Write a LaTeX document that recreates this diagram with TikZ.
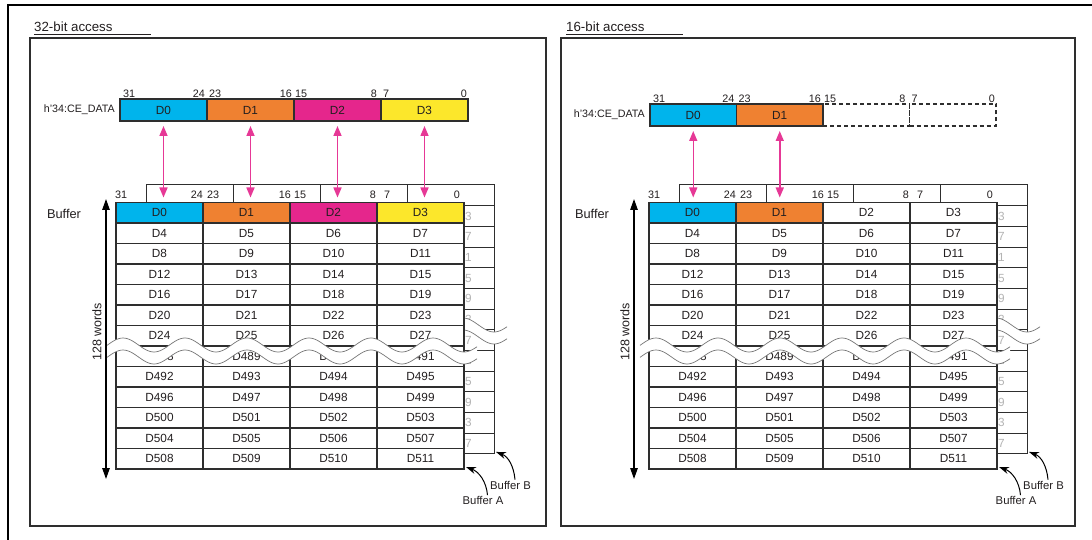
\documentclass[tikz,border=0pt]{standalone}
\usepackage{fontspec}
\setmainfont{Liberation Sans}
\usetikzlibrary{arrows.meta}
\definecolor{cD0}{HTML}{00B4EC}
\definecolor{cD1}{HTML}{EF8131}
\definecolor{cD2}{HTML}{E5268C}
\definecolor{cD3}{HTML}{FCE72B}
\definecolor{magarr}{HTML}{E63896}
\definecolor{ink}{HTML}{231F20}
\definecolor{grid}{HTML}{2E2E2E}
\definecolor{ghost}{HTML}{B4B4B4}
\definecolor{wavec}{HTML}{777777}

\newcommand\mywave{%
 \fill[white] plot[domain=-9:361,samples=160] (\x,{345-7*cos(5.80645*(\x-7))})
   -- plot[domain=-361:9,samples=160] (-\x,{357-7*cos(5.80645*(-\x-7))}) -- cycle;
 \draw[wavestyle] plot[domain=-9:361,samples=160] (\x,{345-7*cos(5.80645*(\x-7))});
 \draw[wavestyle] plot[domain=-9:361,samples=160] (\x,{357-7*cos(5.80645*(\x-7))});
}

% #1 prefix, #2 A left, #3 reg left, #4 reg top, #5 reg cell width, #6 vertical arrow x, #7 coloured fields
\newcommand\mypanel[7]{%
 % back buffer (Buffer B)
 \foreach \ri in {0,...,12}{%
  \foreach \ci in {0,...,3}{%
   \node[bcell] (#1-b-\ri-\ci) at ({#2+30+87*\ci+43.5},{185+20.69*\ri+10.345}) {};
  }%
 }%
 \foreach \ri in {1,...,12}{%
   \ifnum\ri<8 \pgfmathtruncatemacro\bn{4*(\ri-1)+3}\else\pgfmathtruncatemacro\bn{488+4*(\ri-8)+3}\fi
   \node[ghosttxt, anchor=east] (#1-bt-\ri) at ({#2+356},{185+20.69*\ri+10.345}) {D\bn};
 }%
 \begin{scope}[shift={(#2+30,-20)}]
   \mywave
 \end{scope}
 % front buffer (Buffer A)
 \foreach \ri in {0,...,12}{%
   \ifnum\ri<7 \pgfmathtruncatemacro\rbase{4*\ri}\else\pgfmathtruncatemacro\rbase{488+4*(\ri-7)}\fi
   \foreach \ci in {0,...,3}{%
     \pgfmathtruncatemacro\dn{\rbase+\ci}%
     \def\fc{white}%
     \ifnum\ri=0 \ifnum\ci<#7 \def\fc{cD\ci}\fi\fi
     \node[acell, fill=\fc] (#1-a-\ri-\ci) at ({#2+87*\ci+43.5},{202.5+20.5*\ri+10.25}) {D\dn};
   }%
 }%
 \begin{scope}[shift={(#2,0)}]
   \mywave
 \end{scope}
 % bit numbers above buffer
 \foreach \bt/\dx/\an in {31/-1/west,24/87/east,23/91/west,16/175/east,15/178/west,8/260/east,7/268/west,0/344/east}{%
   \node[bit, anchor=base \an] (#1-ab-\bt) at ({#2+\dx},198.5) {\bt};
 }%
 % register
 \foreach \ci in {0,...,3}{%
   \ifnum\ci<#7
     \node[regcell, minimum width=#5pt, fill=cD\ci] (#1-r-\ci) at ({#3+#5*\ci+#5/2},{#4+11}) {D\ci};
   \else
     \node[regdash, minimum width=#5pt] (#1-r-\ci) at ({#3+#5*\ci+#5/2},{#4+11}) {};
   \fi
 }%
 \foreach \bt/\dx/\an in {31/3/west,24/85/east,23/89/west,16/172/east,15/175/west,8/257/east,7/263/west,0/347/east}{%
   \node[bit, anchor=base \an] (#1-rb-\bt) at ({#3+\dx/87*#5},{#4-1.5}) {\bt};
 }%
 \node[lbl, anchor=east] (#1-lbl) at ({#3-5},{#4+11}) {h'34:CE\_DATA};
 % transfer arrows
 \pgfmathtruncatemacro\lastc{#7-1}%
 \foreach \ci in {0,...,\lastc}{%
   \draw[magarrow] (#1-r-\ci.south) -- (#1-r-\ci.south |- #1-a-0-0.north);
 }%
 % 128 words
 \coordinate (#1-vt) at (#6,199);
 \coordinate (#1-vb) at (#6,479);
 \draw[blkarrow] (#1-vt) -- (#1-vb);
 \node[lbl128, rotate=90] (#1-words) at ({#6-9},332) {128 words};
 \node[buflbl] (#1-buf) at ({#6-42},214) {Buffer};
 % callouts
 \node[calltxt, anchor=west] (#1-tB) at ([xshift=-4pt,yshift=-31pt]#1-b-12-3.south east) {Buffer B};
 \node[calltxt, anchor=west] (#1-tA) at ([xshift=-1.5pt,yshift=-31.5pt]#1-a-12-3.south east) {Buffer A};
 \draw[callout] ([xshift=25pt,yshift=1pt]#1-tB.north west) to[out=95,in=-20] ([xshift=2pt,yshift=2pt]#1-b-12-3.south east);
 \draw[callout] ([xshift=25pt,yshift=1pt]#1-tA.north west) to[out=95,in=-20] ([xshift=2pt,yshift=2pt]#1-a-12-3.south east);
}

\begin{document}
\begin{tikzpicture}[x=1pt,y=-1pt,
  acell/.style={draw=grid, line width=1.2pt, minimum width=87pt, minimum height=20.5pt, inner sep=0pt, outer sep=0pt, font=\fontsize{11.8}{12}\selectfont, text=ink},
  bcell/.style={draw=grid, line width=1pt, fill=white, minimum width=87pt, minimum height=20.69pt, inner sep=0pt, outer sep=0pt},
  ghosttxt/.style={font=\fontsize{11.8}{12}\selectfont, text=ghost, inner sep=0pt},
  regcell/.style={draw=grid, line width=1.6pt, minimum height=22pt, inner sep=0pt, outer sep=0pt, font=\fontsize{11.8}{12}\selectfont, text=ink},
  regdash/.style={draw=grid, line width=1.3pt, dash pattern=on 4pt off 3pt, minimum height=22pt, inner sep=0pt, outer sep=0pt},
  bit/.style={font=\fontsize{10.8}{11}\selectfont, inner sep=0pt, text=ink},
  lbl/.style={font=\fontsize{10.7}{11}\selectfont, inner sep=0pt, text=ink},
  wavestyle/.style={draw=wavec, line width=0.7pt},
  magarrow/.style={draw=magarr, line width=1.5pt, {Triangle[length=10pt,width=8pt]}-{Triangle[length=10pt,width=8pt]}, shorten <=5pt, shorten >=5pt},
  blkarrow/.style={draw=black, line width=1.3pt, {Triangle[length=11pt,width=7.5pt]}-{Triangle[length=11pt,width=7.5pt]}},
  callout/.style={draw=black, line width=1pt, -{Stealth[length=10pt,width=7pt]}},
  calltxt/.style={font=\fontsize{11.3}{12}\selectfont, inner sep=0pt, text=ink},
  buflbl/.style={font=\fontsize{12.8}{13}\selectfont, inner sep=0pt, text=ink},
  lbl128/.style={font=\fontsize{12.5}{13}\selectfont, inner sep=0pt, text=ink},
  titletxt/.style={font=\fontsize{13.3}{14}\selectfont, inner sep=0pt, text=ink},
  panel/.style={draw=grid, line width=1.5pt}
]
\useasboundingbox (0,0) rectangle (1092,540);
\fill[white] (0,0) rectangle (1092,540);
% outer frame
\draw[line width=2.5pt] (7,5) -- (1092,5);
\draw[line width=1.6pt] (8,5) -- (8,540);
% panels
\draw[panel] (30,38) rectangle (546,526);
\draw[panel] (561,38) rectangle (1075,526);
\node[titletxt, anchor=base west] (L-title) at (34,32) {32-bit access};
\draw[line width=0.8pt, draw=ink] ([yshift=-2pt]L-title.base west) -- ++(117,0);
\node[titletxt, anchor=base west] (R-title) at (566,32) {16-bit access};
\draw[line width=0.8pt, draw=ink] ([yshift=-2pt]R-title.base west) -- ++(117,0);

\mypanel{L}{116}{120}{99}{87}{106}{4}
\mypanel{R}{649}{650}{104}{86.5}{634}{2}
\end{tikzpicture}
\end{document}
